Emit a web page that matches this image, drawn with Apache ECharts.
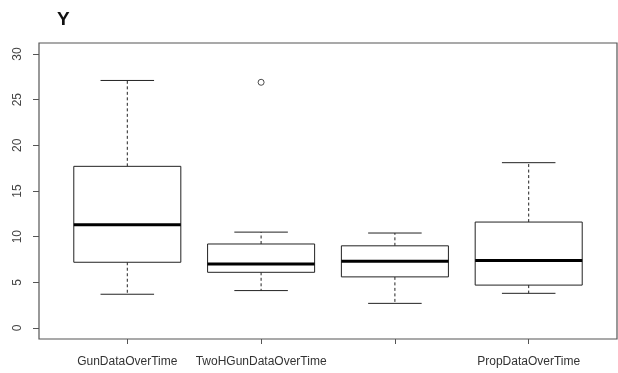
<!DOCTYPE html>
<html>
<head>
<meta charset="utf-8">
<script src="https://cdn.jsdelivr.net/npm/echarts@6/dist/echarts.min.js"></script>
<style>
  html, body { margin: 0; padding: 0; background: #fff; }
  #chart { width: 618px; height: 373px; }
</style>
</head>
<body>
<div id="chart"></div>
<script>
// Box-and-whisker summary per data set
const categories = ['GunDataOverTime', 'TwoHGunDataOverTime', '', 'PropDataOverTime'];
const lowWhisker = [3.7, 4.1, 2.7, 3.8];
const lowerQuartile = [7.2, 6.1, 5.6, 4.7];
const medians = [11.3, 7.0, 7.3, 7.4];
const upperQuartile = [17.7, 9.2, 9.0, 11.6];
const highWhisker = [27.1, 10.5, 10.4, 18.1];
// outliers: [category position, value]
const outliers = [[2, 26.9]];
const yTicks = [0, 5, 10, 15, 20, 25, 30];
const xTicks = [1, 2, 3, 4];

const FONT = "'Liberation Sans', Arial, sans-serif";
const INK = '#222';

const boxData = categories.map((c, i) => [
  i + 1, lowWhisker[i], lowerQuartile[i], medians[i], upperQuartile[i], highWhisker[i]
]);

function renderBox(params, api) {
  const x = api.value(0);
  const pLow = api.coord([x, api.value(1)]);
  const pQ1 = api.coord([x, api.value(2)]);
  const pMed = api.coord([x, api.value(3)]);
  const pQ3 = api.coord([x, api.value(4)]);
  const pHigh = api.coord([x, api.value(5)]);
  const halfBox = api.size([0.4, 0])[0];
  const halfCap = api.size([0.2, 0])[0];
  const cx = pMed[0];
  const thin = { stroke: INK, lineWidth: 1, fill: null };
  const dashed = { stroke: INK, lineWidth: 1, lineDash: [3, 2.5], fill: null };
  return {
    type: 'group',
    children: [
      { type: 'line', shape: { x1: cx, y1: pQ3[1], x2: cx, y2: pHigh[1] }, style: dashed },
      { type: 'line', shape: { x1: cx, y1: pQ1[1], x2: cx, y2: pLow[1] }, style: dashed },
      { type: 'line', shape: { x1: cx - halfCap, y1: pHigh[1], x2: cx + halfCap, y2: pHigh[1] }, style: thin },
      { type: 'line', shape: { x1: cx - halfCap, y1: pLow[1], x2: cx + halfCap, y2: pLow[1] }, style: thin },
      { type: 'rect', shape: { x: cx - halfBox, y: pQ3[1], width: halfBox * 2, height: pQ1[1] - pQ3[1] },
        style: { stroke: INK, lineWidth: 1, fill: '#fff' } },
      { type: 'line', shape: { x1: cx - halfBox, y1: pMed[1], x2: cx + halfBox, y2: pMed[1] },
        style: { stroke: '#000', lineWidth: 3 } }
    ]
  };
}

const chart = echarts.init(document.getElementById('chart'), null, { renderer: 'canvas' });
chart.setOption({
  backgroundColor: '#fff',
  animation: false,
  title: {
    text: 'Y',
    left: 52,
    top: 5,
    textStyle: { fontFamily: FONT, fontSize: 19, fontWeight: 'bold', color: '#111' }
  },
  grid: {
    left: 39, top: 43, width: 578, bottom: 34,
    show: true, borderColor: '#555', borderWidth: 1.2, backgroundColor: 'transparent'
  },
  xAxis: {
    type: 'value',
    position: 'bottom',
    min: 0.34, max: 4.66,
    splitLine: { show: false },
    axisLine: { show: false, onZero: false },
    axisTick: { show: true, length: 5, lineStyle: { color: '#555' }, customValues: xTicks },
    axisLabel: {
      show: true, customValues: xTicks, margin: 17,
      fontFamily: FONT, fontSize: 12, color: '#333',
      formatter: v => categories[Math.round(v) - 1]
    }
  },
  yAxis: {
    type: 'value',
    position: 'left',
    min: -1.2, max: 31.2,
    splitLine: { show: false },
    axisLine: { show: false, onZero: false },
    axisTick: { show: true, length: 6, lineStyle: { color: '#555' }, customValues: yTicks },
    axisLabel: {
      show: true, customValues: yTicks, rotate: 90, margin: 15,
      fontFamily: FONT, fontSize: 12, color: '#444'
    }
  },
  series: [
    {
      type: 'custom',
      renderItem: renderBox,
      data: boxData,
      encode: { x: 0, y: [1, 2, 3, 4, 5] },
      z: 2
    },
    {
      type: 'scatter',
      data: outliers,
      symbol: 'circle',
      symbolSize: 6,
      itemStyle: { color: '#fff', borderColor: INK, borderWidth: 1 },
      z: 3
    }
  ]
});
</script>
</body>
</html>
